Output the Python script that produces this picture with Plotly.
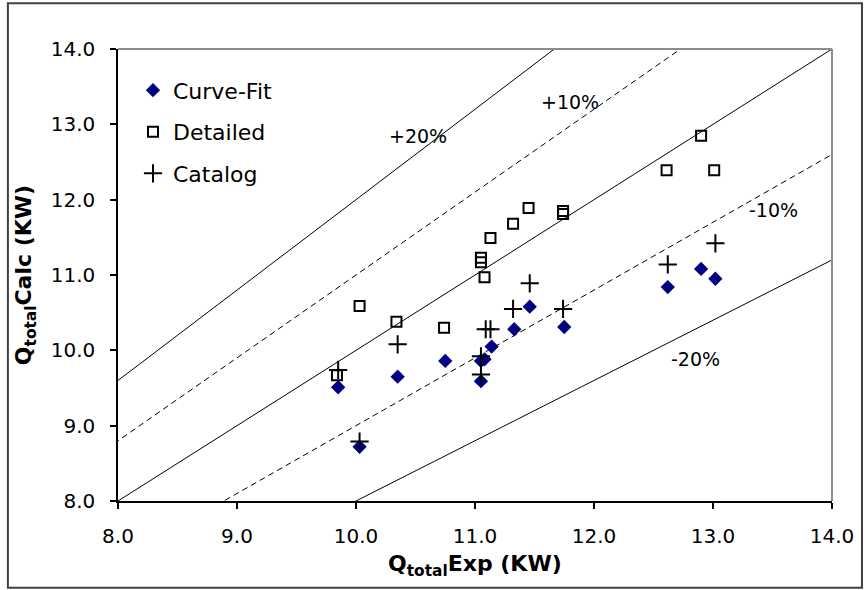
import plotly.graph_objects as go

# ---- data ----
cf_exp = [9.85, 10.03, 10.35, 10.75, 11.05, 11.05, 11.08, 11.14, 11.33, 11.46, 11.75, 12.62, 12.90, 13.02]
cf_calc = [9.51, 8.72, 9.65, 9.86, 9.59, 9.86, 9.88, 10.05, 10.28, 10.58, 10.31, 10.84, 11.08, 10.95]

det_exp = [9.84, 10.03, 10.34, 10.74, 11.05, 11.05, 11.08, 11.13, 11.32, 11.45, 11.74, 11.74, 12.61, 12.90, 13.01]
det_calc = [9.67, 10.59, 10.38, 10.30, 11.23, 11.17, 10.97, 11.49, 11.68, 11.89, 11.85, 11.81, 12.39, 12.85, 12.39]

cat_exp = [9.85, 10.03, 10.35, 11.05, 11.05, 11.09, 11.13, 11.32, 11.46, 11.74, 12.62, 13.02]
cat_calc = [9.74, 8.79, 10.08, 9.92, 9.68, 10.28, 10.28, 10.55, 10.89, 10.55, 11.14, 11.42]

ratios_solid = [1.0, 1.2, 0.8]
ratios_dash = [1.1, 0.9]
line_x = [7.0, 15.0]

band_labels = ["+20%", "+10%", "-10%", "-20%"]
band_label_x = [10.52, 11.80, 13.51, 12.85]
band_label_y = [12.84, 13.30, 11.86, 9.88]

axis_ticks = [8.0, 9.0, 10.0, 11.0, 12.0, 13.0, 14.0]

FONT = "DejaVu Sans"

fig = go.Figure()

for r in ratios_solid:
    fig.add_trace(go.Scatter(x=line_x, y=[r * v for v in line_x], mode="lines",
                             line=dict(color="black", width=1), showlegend=False, hoverinfo="skip"))
for r in ratios_dash:
    fig.add_trace(go.Scatter(x=line_x, y=[r * v for v in line_x], mode="lines",
                             line=dict(color="black", width=1, dash="6px,4px"), showlegend=False, hoverinfo="skip"))

fig.add_trace(go.Scatter(x=cf_exp, y=cf_calc, mode="markers", name="Curve-Fit", legendgroup="a",
                         marker=dict(symbol="diamond", size=11, color="#000080", line=dict(width=0))))
fig.add_trace(go.Scatter(x=det_exp, y=det_calc, mode="markers", name="Detailed", legendgroup="b",
                         marker=dict(symbol="square-open", size=10, color="black", line=dict(width=2, color="black"))))
fig.add_trace(go.Scatter(x=cat_exp, y=cat_calc, mode="markers", name="Catalog", legendgroup="c",
                         marker=dict(symbol="cross-thin-open", size=13, color="black", line=dict(width=2, color="black"))))

for t, x, y in zip(band_labels, band_label_x, band_label_y):
    fig.add_annotation(x=x, y=y, text=t, showarrow=False, font=dict(family=FONT, size=19, color="black"))

# axis titles
fig.add_annotation(xref="paper", yref="paper", x=0.5, y=-0.143, text="<b>Q<sub>total</sub>Exp (KW)</b>",
                   showarrow=False, font=dict(family=FONT, size=22, color="black"), xanchor="center", yanchor="middle")
fig.add_annotation(xref="paper", yref="paper", x=-0.13, y=0.5, text="<b>Q<sub>total</sub>Calc (KW)</b>",
                   showarrow=False, textangle=-90, font=dict(family=FONT, size=22, color="black"),
                   xanchor="center", yanchor="middle")

# plot-area frame (top/right gray) and outer chart border
fig.add_shape(type="line", xref="paper", yref="paper", x0=0, x1=1, y0=1, y1=1, line=dict(color="#8c8c8c", width=2))
fig.add_shape(type="line", xref="paper", yref="paper", x0=1, x1=1, y0=0, y1=1, line=dict(color="#8c8c8c", width=2))
fig.add_shape(type="rect", xref="paper", yref="paper", x0=-0.1542, x1=1.042, y0=-0.192, y1=1.101,
              line=dict(color="#404040", width=2), layer="below")

axis_common = dict(range=[8, 14], tickvals=axis_ticks, tickformat=".1f", showgrid=False, zeroline=False,
                   showline=True, linecolor="black", linewidth=1.5, ticks="outside", ticklen=6,
                   tickcolor="black", tickwidth=1.5, tickfont=dict(family=FONT, size=20, color="black"),
                   fixedrange=True)

fig.update_layout(
    width=867, height=590,
    margin=dict(l=117.5, r=35, t=48.7, b=89.3),
    paper_bgcolor="white", plot_bgcolor="white",
    xaxis=dict(axis_common, ticklabelstandoff=10),
    yaxis=dict(axis_common, ticklabelstandoff=11),
    showlegend=True,
    legend=dict(x=0.021, y=0.955, xanchor="left", yanchor="top", bgcolor="rgba(0,0,0,0)",
                font=dict(family=FONT, size=22, color="black"), tracegroupgap=10, itemsizing="trace"),
)

fig.write_html("out.html")
